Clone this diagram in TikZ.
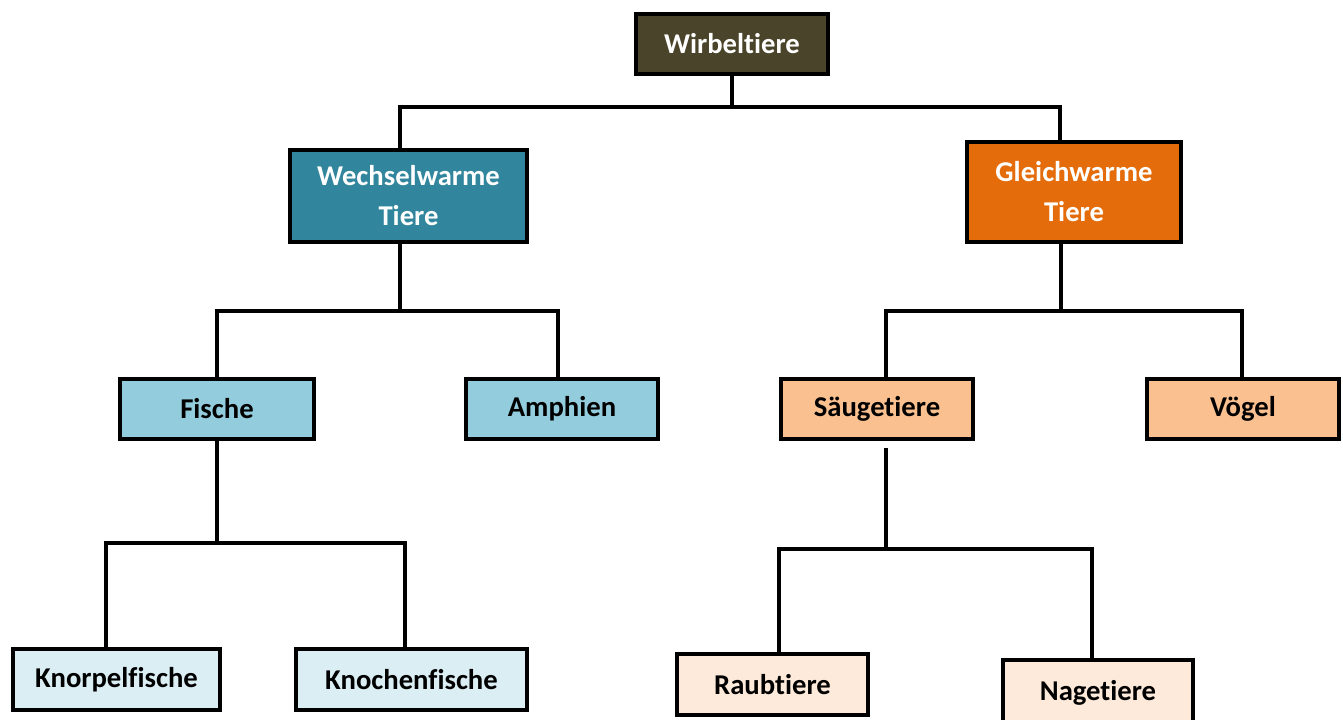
\documentclass[tikz,border=0pt]{standalone}
\usepackage{fontspec}
\setmainfont{Carlito}[Ligatures=CommonOff]
\usetikzlibrary{calc}
\definecolor{cWirb}{HTML}{4A442A}
\definecolor{cWech}{HTML}{31859C}
\definecolor{cGleich}{HTML}{E46C0A}
\definecolor{cBlue}{HTML}{93CDDD}
\definecolor{cOrange}{HTML}{FAC090}
\definecolor{cLBlue}{HTML}{DBEEF4}
\definecolor{cLOrange}{HTML}{FDEADA}
\tikzset{
  box/.style={draw=black, line width=3pt, rectangle, align=center, inner sep=0pt,
    font=\fontsize{21.5pt}{30pt}\selectfont\bfseries},
  conn/.style={draw=black, line width=2.4pt},
}
\begin{document}
\begin{tikzpicture}[x=0.75pt,y=-0.75pt]
\useasboundingbox (0,0) rectangle (1343,720);
\clip (0,0) rectangle (1343,720);
\fill[white] (0,0) rectangle (1343,720);
% nodes
\node[box, fill=cWirb, text=white, minimum width=144pt, minimum height=45pt] (wirb) at (732,44) {Wirbeltiere};
\node[box, fill=cWech, text=white, minimum width=178pt, minimum height=69pt] (wech) at (408.5,196) {Wechselwarme\\Tiere};
\node[box, fill=cGleich, text=white, minimum width=160.5pt, minimum height=75pt] (gleich) at (1074,192) {Gleichwarme\\Tiere};
\node[box, fill=cBlue, minimum width=145pt, minimum height=45pt] (fische) at (217,409) {Fische};
\node[box, fill=cBlue, minimum width=144pt, minimum height=45pt] (amph) at (562,409) {Amphien};
\node[box, fill=cOrange, minimum width=144pt, minimum height=45pt] (saeug) at (877,409) {Säugetiere};
\node[box, fill=cOrange, minimum width=144pt, minimum height=45pt] (voegel) at (1243,409) {Vögel};
\node[box, fill=cLBlue, minimum width=155pt, minimum height=46pt] (knorp) at (116.5,679.5) {Knorpelfische};
\node[box, fill=cLBlue, minimum width=173pt, minimum height=46pt] (knoch) at (411.5,679.5) {Knochenfische};
\node[box, fill=cLOrange, minimum width=143pt, minimum height=46pt] (raub) at (772.5,684.5) {Raubtiere};
\node[box, fill=cLOrange, minimum width=143pt, minimum height=50pt] (nage) at (1098,693) {Nagetiere};
% junction coordinates
\coordinate (j1) at (732,107);
\coordinate (j2) at (400,311);
\coordinate (j3) at (1061,311);
\coordinate (j4) at (217,543);
\coordinate (j5) at (886,549);
\coordinate (s5) at (886,448);
% connectors
\draw[conn] (wirb.south) -- (j1);
\draw[conn] ($(wech.north)+(-8.5,0)$) |- (j1) -| ($(gleich.north)+(-14,0)$);
\draw[conn] ($(wech.south)+(-8.5,0)$) -- (j2);
\draw[conn] (fische.north) |- (j2) -| ($(amph.north)+(-4,0)$);
\draw[conn] ($(gleich.south)+(-13,0)$) -- (j3);
\draw[conn] ($(saeug.north)+(9,0)$) |- (j3) -| ($(voegel.north)+(-1,0)$);
\draw[conn] (fische.south) -- (j4);
\draw[conn] ($(knorp.north)+(-10.5,0)$) |- (j4) -| ($(knoch.north)+(-6.5,0)$);
\draw[conn] (s5) -- (j5);
\draw[conn] ($(raub.north)+(6.5,0)$) |- (j5) -| ($(nage.north)+(-6,0)$);
\end{tikzpicture}
\end{document}
